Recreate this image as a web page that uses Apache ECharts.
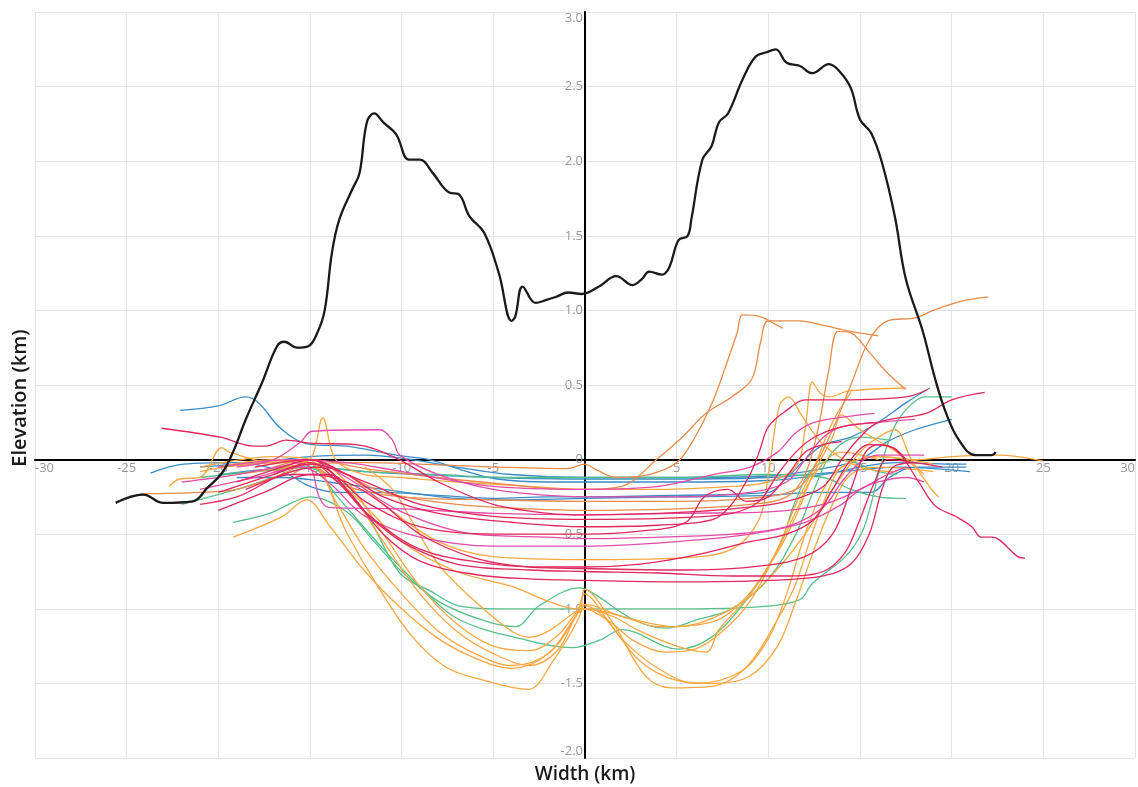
<!DOCTYPE html>
<html>
<head>
<meta charset="UTF-8">
<title>Elevation vs width</title>
<script src="https://cdn.jsdelivr.net/npm/echarts@6/dist/echarts.min.js"></script>
<style>
  html, body { margin: 0; padding: 0; background: #fff; }
  #main { width: 1138px; height: 787px; }
</style>
</head>
<body>
<div id="main"></div>
<script>
// ticks
var xTicks = [-30, -25, -20, -15, -10, -5, 0, 5, 10, 15, 20, 25, 30];
var yTicks = [-2.0, -1.5, -1.0, -0.5, 0, 0.5, 1.0, 1.5, 2.0, 2.5, 3.0];

// topographic profile (km, km)
var topo = [[-25.6,-0.29],[-24.1,-0.235],[-23.0,-0.29],[-21.4,-0.28],[-20.6,-0.19],[-19.8,-0.09],[-19.2,0.05],
  [-18.5,0.27],[-17.6,0.52],[-16.8,0.76],[-16.4,0.79],[-15.7,0.75],[-15.1,0.76],[-14.6,0.85],[-14.2,1.0],
  [-13.8,1.39],[-13.4,1.61],[-12.7,1.81],[-12.3,1.92],[-11.9,2.26],[-11.5,2.32],[-11.0,2.26],[-10.3,2.18],
  [-9.6,2.01],[-9.0,2.01],[-8.3,1.92],[-7.4,1.79],[-6.9,1.78],[-6.3,1.63],[-5.5,1.52],[-4.7,1.25],
  [-4.0,0.93],[-3.8,0.96],[-3.4,1.16],[-2.7,1.05],[-2.1,1.07],[-1.6,1.09],[-0.9,1.12],[-0.2,1.11],
  [0.76,1.16],[1.7,1.23],[2.6,1.17],[3.1,1.21],[3.5,1.26],[4.2,1.24],[4.6,1.29],[5.1,1.47],[5.6,1.5],
  [5.8,1.61],[6.4,2.01],[6.9,2.1],[7.3,2.26],[7.8,2.32],[8.6,2.55],[9.3,2.70],[9.9,2.73],[10.4,2.75],
  [11.0,2.66],[11.7,2.64],[12.4,2.59],[13.3,2.65],[13.9,2.60],[14.5,2.49],[15.0,2.28],[15.6,2.19],
  [16.2,1.99],[16.9,1.63],[17.5,1.21],[18.4,0.87],[19.1,0.54],[19.7,0.31],[20.4,0.13],[21.3,0.03],
  [22.2,0.03],[22.4,0.05]];

// channel cross-sections
var blue1 = [[-22.1,0.33],[-20,0.36],[-18.5,0.42],[-17.8,0.38],[-16.7,0.22],[-15.7,0.13],[-14.9,0.1],[-13,0.09],[-10.3,0.03],[-8.5,0],[-6.7,-0.07],[-4.8,-0.13],[-2,-0.15],[0,-0.15],[5,-0.15],[10,-0.14],[13,-0.1],[15,-0.05],[17,-0.02],[20,-0.03],[20.8,-0.03]];
var blue2 = [[-23.7,-0.09],[-21.9,-0.03],[-19,-0.02],[-16.5,-0.08],[-15,-0.18],[-13.5,-0.22],[-11,-0.22],[-8,-0.24],[-5,-0.26],[-2,-0.25],[0,-0.25],[5,-0.24],[10,-0.22],[11,-0.12],[12,0.0],[13,0.1],[14.5,0.15],[16,0.25],[17.5,0.38],[18.8,0.48]];
var blue3 = [[-21,-0.05],[-18,-0.02],[-15,0.02],[-12,0.03],[-10,0.01],[-7,-0.05],[-4,-0.1],[0,-0.12],[5,-0.12],[10,-0.11],[13,-0.06],[15,0],[16.5,0.12],[18,0.2],[20,0.27]];
var blue4 = [[-20,-0.1],[-17,-0.06],[-15,-0.05],[-12,-0.08],[-9,-0.1],[-5,-0.12],[0,-0.13],[5,-0.13],[10,-0.12],[14,-0.08],[17,-0.05],[21,-0.08]];
var blue5 = [[-19,-0.12],[-16.5,-0.12],[-14,-0.15],[-11,-0.2],[-7,-0.26],[-4,-0.27],[0,-0.26],[5,-0.25],[10,-0.24],[12.5,-0.22],[15.6,-0.22],[16.6,-0.12],[18,-0.05],[20.8,-0.05]];

var red1 = [[-23.1,0.21],[-19.9,0.15],[-18.1,0.09],[-17.4,0.09],[-16.3,0.13],[-15,0.11],[-12.5,0.1],[-10.3,0.01],[-8,-0.15],[-5,-0.3],[-2,-0.36],[0,-0.37],[4,-0.36],[8,-0.33],[11,-0.28],[13,-0.18],[14,0.0],[15,0.15],[16,0.25],[18.6,0.31],[20,0.4],[21.8,0.45]];
var red2 = [[-20,-0.34],[-17.5,-0.22],[-15,-0.1],[-13,-0.15],[-11,-0.3],[-9,-0.5],[-6,-0.66],[-3,-0.72],[0,-0.73],[5,-0.74],[9,-0.72],[12,-0.65],[13.5,-0.5],[14.5,-0.2],[15.3,0.05],[16,0.1],[16.6,0.09],[17.3,0.02],[18.2,-0.15],[19.1,-0.31],[20.2,-0.38],[21.1,-0.45],[21.6,-0.52],[22.2,-0.52],[23.6,-0.65],[24,-0.66]];
var red3 = [[-18,-0.05],[-15,0.0],[-13,-0.2],[-11,-0.5],[-9,-0.68],[-6,-0.77],[-3,-0.8],[0,-0.81],[5,-0.82],[10,-0.81],[13,-0.78],[14.5,-0.7],[15.5,-0.5],[16.2,-0.2],[16.8,-0.05],[18,-0.02]];
var red4 = [[-17,-0.1],[-15,-0.02],[-13.5,-0.15],[-12,-0.35],[-10,-0.55],[-7,-0.7],[-3,-0.74],[0,-0.75],[4,-0.76],[8,-0.78],[11,-0.78],[13,-0.75],[14.2,-0.62],[15,-0.4],[15.8,-0.15],[16.5,0.0],[18,-0.02],[19.5,-0.05]];
var red5 = [[-19,-0.15],[-16,-0.03],[-15,0.0],[-13,-0.1],[-11,-0.25],[-8,-0.36],[-4,-0.42],[0,-0.45],[4,-0.44],[7,-0.4],[8,-0.3],[9,-0.1],[9.5,0.05],[10,0.22],[11,0.33],[12,0.4],[14,0.4],[17.5,0.42],[18.7,0.47]];
var red6 = [[-20,-0.22],[-17,-0.1],[-15,-0.03],[-12,-0.15],[-9,-0.3],[-5,-0.38],[0,-0.4],[5,-0.39],[8,-0.36],[9.5,-0.28],[10.5,-0.1],[11.5,0.05],[12.5,0.15],[14,0.22],[16,0.25]];
var red7 = [[-18.5,-0.2],[-16,-0.08],[-14.5,-0.05],[-12,-0.35],[-9,-0.6],[-5,-0.7],[-2,-0.72],[0,-0.72],[3,-0.7],[6,-0.64],[9,-0.55],[11,-0.5],[12.5,-0.4],[13.5,-0.2],[14.5,0.0],[15.5,0.1],[16.8,0.08],[17.5,0.0]];
var red8 = [[-21,-0.3],[-19,-0.25],[-16,-0.1],[-14,-0.1],[-12,-0.28],[-9,-0.45],[-5,-0.5],[0,-0.5],[3,-0.48],[5.5,-0.42],[6.5,-0.25],[7.8,-0.2],[8.8,-0.28],[10,-0.25],[11.2,-0.08],[12,0.05],[13,0.1],[14,0.12]];

var pink1 = [[-19,-0.05],[-17,0.0],[-15.5,0.12],[-14.9,0.19],[-11.2,0.2],[-10.5,0.13],[-10.1,0.03],[-8,-0.1],[-5,-0.2],[-2,-0.24],[0,-0.25],[5,-0.25],[9,-0.22],[11,-0.15],[12,0.0],[13,0.15],[14,0.22],[16,0.25],[18,0.27]];
var pink2 = [[-22,-0.15],[-19,-0.1],[-16,-0.03],[-15,0.0],[-13,-0.12],[-10,-0.35],[-6,-0.5],[-2,-0.52],[0,-0.53],[4,-0.52],[8,-0.5],[11,-0.45],[13,-0.32],[14,-0.15],[15,-0.02],[16,0.03],[18.5,0.03]];
var pink3 = [[-21,-0.2],[-18,-0.12],[-15.5,-0.05],[-14,-0.15],[-12,-0.38],[-9,-0.52],[-5,-0.58],[0,-0.58],[5,-0.55],[9,-0.5],[12,-0.42],[14,-0.3],[15,-0.2],[16,-0.15],[17.5,-0.12],[18.5,-0.15]];
var pink4 = [[-16,-0.02],[-15,-0.05],[-14.5,-0.25],[-14,-0.32],[-10,-0.33],[-5,-0.36],[0,-0.37],[5,-0.36],[10,-0.35],[13,-0.3],[15,-0.2],[16.5,-0.1],[17.5,-0.05]];
var pink5 = [[-20,-0.05],[-16,0.0],[-13,-0.02],[-10,-0.08],[-5,-0.18],[0,-0.2],[4,-0.18],[7,-0.1],[9,-0.05],[10.5,0.05],[11.5,0.18],[12.5,0.25],[14.4,0.29],[15.8,0.31]];

var rust1 = [[-24.3,-0.23],[-21,-0.22],[-19,-0.2],[-17,-0.12],[-15,-0.03],[-12,-0.02],[-9,-0.03],[-5,-0.05],[-1,-0.06],[0,-0.03],[0.5,-0.06],[1.7,-0.12],[3.5,-0.1],[5,-0.02],[6,0.15],[7,0.4],[7.6,0.6],[8.3,0.85],[8.6,0.97],[9.5,0.96],[10.5,0.9],[10.8,0.88]];
var rust2 = [[-20,-0.05],[-17,-0.02],[-15,0.0],[-12,-0.06],[-8,-0.12],[-4,-0.17],[-1,-0.2],[0,-0.2],[2,-0.18],[3.9,0.0],[5.3,0.15],[6.6,0.31],[8,0.42],[9.1,0.54],[9.6,0.8],[10,0.93],[11.7,0.93],[13,0.9],[14.5,0.86],[16,0.83]];
var rust3 = [[-17,-0.05],[-15,0.0],[-13,-0.1],[-11,-0.22],[-7,-0.3],[-3,-0.33],[0,-0.34],[5,-0.33],[9,-0.3],[11,-0.25],[12,-0.1],[12.7,0.2],[13.3,0.6],[13.8,0.86],[14.5,0.85],[15.5,0.72],[16.5,0.58],[17.5,0.47]];
var rust4 = [[-16,-0.1],[-15,-0.05],[-13,-0.18],[-10,-0.25],[-5,-0.27],[0,-0.28],[5,-0.28],[9,-0.26],[11.5,-0.2],[12.5,-0.05],[13.5,0.2],[14.5,0.5],[15.5,0.8],[16.5,0.93],[18,0.95],[19,1.0],[20.5,1.06],[22,1.09]];

var amber1 = [[-19,-0.1],[-16.5,-0.05],[-15,0.0],[-14.3,0.28],[-13.6,0.0],[-12,-0.1],[-10,-0.12],[-7,-0.15],[-3,-0.18],[0,-0.2],[4,-0.2],[8,-0.18],[10,-0.15],[11.5,-0.05],[12,0.2],[12.4,0.52],[12.8,0.45],[13.3,0.42],[14.4,0.46],[17.5,0.48]];
var amber2 = [[-22.7,-0.18],[-22.1,-0.13],[-21,-0.12],[-19.8,0.08],[-19.4,0.05],[-17,-0.02],[-15,-0.02],[-12.5,-0.25],[-10,-0.55],[-7,-0.75],[-4,-0.85],[-2,-0.95],[-0.5,-1.0],[0,-0.97],[2,-1.05],[5,-1.12],[8,-1.0],[10,-0.8],[12,-0.5],[13.5,-0.2],[15,0.05],[16,0.15],[16.9,0.2],[17.8,0.0],[18.9,-0.2],[19.3,-0.25]];
var amber3 = [[-21,-0.05],[-17,0.02],[-15,0],[-13,-0.49],[-11.2,-0.87],[-9.4,-1.19],[-7.6,-1.39],[-5.8,-1.47],[-3.1,-1.54],[-1.8,-1.36],[-0.3,-1.05],[0,-0.87],[1.5,-1.09],[3.3,-1.45],[4.7,-1.53],[6.9,-1.52],[8.8,-1.39],[10.6,-1.05],[11.5,-0.83],[12.4,-0.49],[13.3,-0.2],[14,-0.05],[16,0.02],[19,-0.03]];
var amber4 = [[-19.2,-0.52],[-16.5,-0.38],[-15.2,-0.27],[-13.9,-0.45],[-12,-0.75],[-10,-1.0],[-8,-1.2],[-6,-1.33],[-4,-1.4],[-2,-1.3],[-0.5,-1.05],[0,-0.98],[1,-1.05],[3,-1.35],[5,-1.48],[7,-1.5],[9,-1.45],[10.5,-1.25],[11.5,-0.95],[12.5,-0.6],[13.5,-0.3],[14.5,-0.1],[16,-0.05],[19,-0.08]];
var amber5 = [[-20,-0.05],[-17,0.0],[-15,-0.02],[-13.5,-0.3],[-12,-0.6],[-10,-0.9],[-8,-1.15],[-6,-1.3],[-4,-1.38],[-2,-1.3],[-0.5,-1.05],[0,-0.9],[0.5,-0.95],[2,-1.2],[4,-1.4],[6,-1.5],[8.5,-1.42],[10,-1.2],[11,-0.9],[12,-0.5],[13,-0.2],[14,-0.05],[16,0.02],[18,0.0],[20,0.02],[22.5,0.03],[25,-0.01]];
var amber6 = [[-21,-0.08],[-18,-0.02],[-15,0.0],[-13,-0.15],[-11,-0.5],[-9,-0.85],[-7,-1.1],[-5,-1.25],[-3,-1.28],[-1.5,-1.18],[0,-1.0],[1.5,-1.05],[3,-1.15],[5,-1.25],[6.6,-1.29],[7.3,-1.14],[8.9,-0.92],[10.4,-0.63],[11.5,-0.35],[12.5,-0.1],[14,0.05],[16,0.0]];
var amber7 = [[-18,-0.05],[-15,0.0],[-13,-0.2],[-11,-0.55],[-9,-0.9],[-7,-1.15],[-5,-1.3],[-3,-1.38],[-1.5,-1.28],[0,-1.0],[1.5,-1.1],[2.6,-1.21],[4.4,-1.29],[6,-1.27],[7.5,-1.15],[9,-0.95],[10.5,-0.6],[11.5,-0.3],[12.5,-0.05],[13.5,0.25],[14.5,0.45]];
var amber8 = [[-12,-0.05],[-10.5,-0.2],[-9.5,-0.4],[-8,-0.7],[-6,-0.95],[-4,-1.15],[-3,-1.19],[-2,-1.15],[-0.5,-1.02],[0,-1.0],[2,-1.05],[4,-1.12],[6.9,-1.09],[8.8,-0.92],[10.6,-0.6],[11.5,-0.38],[12.4,-0.11],[13.5,0.15],[14,0.3],[15,0.2],[17,0.05],[18.5,-0.1]];
var amber9 = [[-17,-0.08],[-15,-0.03],[-13,-0.1],[-11,-0.3],[-8,-0.55],[-5,-0.65],[0,-0.67],[5,-0.66],[8,-0.6],[9.5,-0.4],[10,-0.1],[10.6,0.36],[11.1,0.42],[11.8,0.3],[13,0.1],[15,-0.05],[17,-0.08]];

var green1 = [[-21,-0.12],[-18,-0.08],[-16,-0.05],[-14,-0.1],[-12,-0.35],[-10.1,-0.76],[-8.3,-0.89],[-6.9,-0.98],[-4.7,-1.0],[0,-1.0],[5,-1.0],[9,-0.99],[11.7,-0.94],[12.4,-0.83],[14.2,-0.65],[15.1,-0.49],[15.6,-0.3],[16,-0.1],[16.5,0.1],[17,0.25],[17.8,0.37],[18.5,0.42],[20,0.42]];
var green2 = [[-19.2,-0.42],[-17.2,-0.36],[-16,-0.29],[-15,-0.25],[-13,-0.35],[-11.5,-0.55],[-10,-0.75],[-8,-0.95],[-5.5,-1.08],[-3.8,-1.12],[-2.5,-0.98],[-0.3,-0.86],[0.5,-0.9],[2.6,-1.07],[4.4,-1.13],[6.2,-1.07],[8,-1.0],[10,-0.8],[11.5,-0.5],[12.5,-0.2],[13.5,0.05],[15,0.15],[16.6,0.13]];
var green3 = [[-22,-0.3],[-19,-0.2],[-16.5,-0.1],[-15,-0.05],[-13.5,-0.25],[-11,-0.6],[-9,-0.85],[-6.9,-1.07],[-3.2,-1.21],[-0.7,-1.26],[0.8,-1.21],[2,-1.14],[5.1,-1.27],[6.9,-1.19],[8.8,-0.94],[10.6,-0.58],[11.5,-0.27],[12.5,-0.05],[14,0.0],[16,-0.08],[17,-0.1]];
var green4 = [[-20,-0.1],[-17,-0.07],[-15,-0.05],[-12,-0.08],[-8,-0.1],[-4,-0.12],[0,-0.12],[5,-0.12],[10,-0.1],[13,-0.12],[14.5,-0.2],[16,-0.25],[17.5,-0.26]];

var colours = {
  blue: '#3a8cc6',
  red: '#e0275e',
  pink: '#e34ca8',
  rust: '#e98b4b',
  amber: '#f9a743',
  green: '#55c08a'
};

var channelLines = [
  [blue1, 'blue'], [blue2, 'blue'], [blue3, 'blue'], [blue4, 'blue'], [blue5, 'blue'],
  [green1, 'green'], [green2, 'green'], [green3, 'green'], [green4, 'green'],
  [amber1, 'amber'], [amber2, 'amber'], [amber3, 'amber'], [amber4, 'amber'], [amber5, 'amber'],
  [amber6, 'amber'], [amber7, 'amber'], [amber8, 'amber'], [amber9, 'amber'],
  [rust1, 'rust'], [rust2, 'rust'], [rust3, 'rust'], [rust4, 'rust'],
  [pink1, 'pink'], [pink2, 'pink'], [pink3, 'pink'], [pink4, 'pink'], [pink5, 'pink'],
  [red1, 'red'], [red2, 'red'], [red3, 'red'], [red4, 'red'], [red5, 'red'],
  [red6, 'red'], [red7, 'red'], [red8, 'red']
];

var series = channelLines.map(function (c) {
  return {
    type: 'line',
    data: c[0],
    smooth: 0.35,
    showSymbol: false,
    silent: true,
    lineStyle: { color: colours[c[1]], width: 1.3 },
    z: 2
  };
});

series.push({
  type: 'line',
  data: topo,
  smooth: 0.4,
  showSymbol: false,
  silent: true,
  lineStyle: { color: '#1a1a1a', width: 2.3 },
  z: 3
});

// plot box: 1100 x 746; the axes are shifted onto the zero lines with a negative offset
var gridBox = { left: 35, right: 3, top: 12, bottom: 29 };
var xZeroOffset = -746 * (0 - yTicks[0]) / (yTicks[yTicks.length - 1] - yTicks[0]);
var yZeroOffset = -1100 * (0 - xTicks[0]) / (xTicks[xTicks.length - 1] - xTicks[0]);

var myChart = echarts.init(document.getElementById('main'));
var option = {
  animation: false,
  backgroundColor: '#fff',
  grid: gridBox,
  xAxis: {
    type: 'value',
    position: 'bottom',
    offset: xZeroOffset,
    min: xTicks[0],
    max: xTicks[xTicks.length - 1],
    interval: 5,
    axisLine: { onZero: false, lineStyle: { color: '#000', width: 2 } },
    axisTick: { show: false },
    splitLine: { show: true, lineStyle: { color: '#e4e4e4', width: 1.2 } },
    axisLabel: {
      color: '#999',
      fontFamily: 'Open Sans',
      fontSize: 13,
      margin: 2,
      alignMinLabel: 'left',
      alignMaxLabel: 'right',
      formatter: function (v) { return v === 0 ? '' : String(v); }
    },
    z: 1
  },
  yAxis: {
    type: 'value',
    position: 'left',
    offset: yZeroOffset,
    min: yTicks[0],
    max: yTicks[yTicks.length - 1],
    interval: 0.5,
    axisLine: { onZero: false, lineStyle: { color: '#000', width: 2 } },
    axisTick: { show: false },
    splitLine: { show: true, lineStyle: { color: '#e4e4e4', width: 1.2 } },
    axisLabel: {
      color: '#999',
      fontFamily: 'Open Sans',
      fontSize: 13,
      margin: 2,
      verticalAlignMinLabel: 'bottom',
      verticalAlignMaxLabel: 'top',
      formatter: function (v) { return v === 0 ? '0' : v.toFixed(1); }
    },
    z: 1
  },
  graphic: [
    {
      type: 'text',
      x: 20,
      y: 398,
      rotation: Math.PI / 2,
      style: {
        text: 'Elevation (km)',
        fill: '#1a1a1a',
        font: '600 20px "Open Sans"',
        textAlign: 'center',
        textVerticalAlign: 'middle'
      }
    },
    {
      type: 'text',
      x: 585,
      y: 775,
      style: {
        text: 'Width (km)',
        fill: '#1a1a1a',
        font: '600 19px "Open Sans"',
        textAlign: 'center',
        textVerticalAlign: 'middle'
      }
    }
  ],
  series: series
};

myChart.setOption(option);
</script>
</body>
</html>
